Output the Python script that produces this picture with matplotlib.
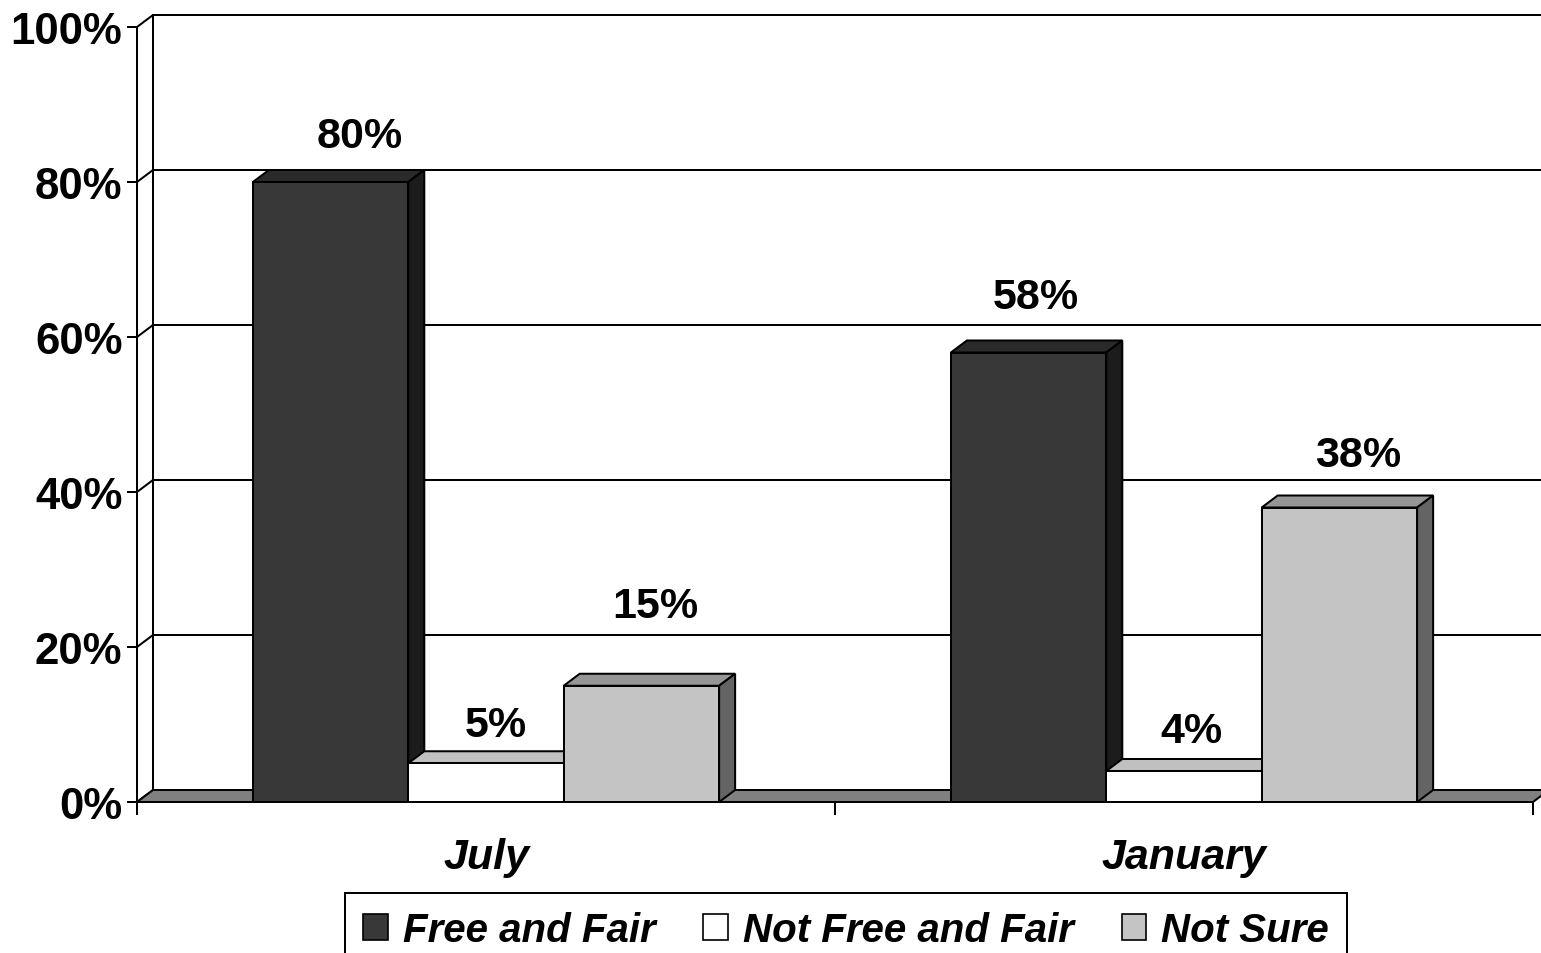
import matplotlib
matplotlib.use("Agg")
import matplotlib.pyplot as plt
from matplotlib.patches import Polygon, Patch

# ---- data ----
categories = ["July", "January"]
series = ["Free and Fair", "Not Free and Fair", "Not Sure"]
free_and_fair = [80, 58]
not_free_and_fair = [5, 4]
not_sure = [15, 38]
y_ticks = [0, 20, 40, 60, 80, 100]
y_tick_labels = ["0%", "20%", "40%", "60%", "80%", "100%"]

# ---- styles ----
front_colors = ["#383838", "#ffffff", "#c4c4c4"]
top_colors = ["#2a2a2a", "#c0c0c0", "#969696"]
side_colors = ["#1c1c1c", "#9a9a9a", "#646464"]
floor_color = "#808080"
LW = 1.44
DEPTH_X_PX, DEPTH_Y_PX = 16, 12
FONT = "Liberation Sans"

W, H = 1541, 954
fig = plt.figure(figsize=(W / 100, H / 100), dpi=100)
ax = fig.add_axes([137 / W, (H - 803) / H, 1396 / W, 775 / H])
ax.set_xlim(0, 2)
ax.set_ylim(0, 100)

# depth offset converted to data units
ax_w_px = 1396
ax_h_px = 775
dx = DEPTH_X_PX * 2 / ax_w_px
dy = DEPTH_Y_PX * 100 / ax_h_px

def poly(pts, fc, z):
    p = Polygon(pts, closed=True, facecolor=fc, edgecolor="black",
                linewidth=LW, joinstyle="miter", clip_on=False, zorder=z)
    ax.add_patch(p)

# back wall gridlines (incl. side-wall diagonals)
for t in y_ticks:
    ax.plot([0, dx, 2 + dx], [t, t + dy, t + dy], color="black", lw=LW,
            clip_on=False, zorder=0.5, solid_joinstyle="miter")
ax.plot([dx, dx], [dy, 100 + dy], color="black", lw=LW, clip_on=False, zorder=0.5)

# floor
poly([(0, 0), (2, 0), (2 + dx, dy), (dx, dy)], floor_color, 1)

# bars
values = [free_and_fair, not_free_and_fair, not_sure]
n = len(series)
bw = 0.668 / n
z = 2
label_offsets_px = [(29, 46), (10, 38), (14, 80), (7, 55), (7, 40), (19, 52)]
k = 0
for i, cat in enumerate(categories):
    for j in range(n):
        v = values[j][i]
        x0 = i + 0.5 - bw * n / 2 + j * bw
        x1 = x0 + bw
        poly([(x0, v), (x1, v), (x1 + dx, v + dy), (x0 + dx, v + dy)], top_colors[j], z)
        poly([(x1, 0), (x1, v), (x1 + dx, v + dy), (x1 + dx, dy)], side_colors[j], z)
        poly([(x0, 0), (x1, 0), (x1, v), (x0, v)], front_colors[j], z)
        z += 0.1
        ax.annotate(f"{v}%", xy=((x0 + x1) / 2, v), xytext=label_offsets_px[k],
                    textcoords="offset pixels", ha="center", va="center",
                    fontsize=31, fontweight="bold", family=FONT, zorder=10,
                    annotation_clip=False)
        k += 1

# axes styling
for s in ["top", "right"]:
    ax.spines[s].set_visible(False)
ax.spines["left"].set_linewidth(LW)
ax.spines["bottom"].set_linewidth(LW)
ax.spines["left"].set_zorder(5)
ax.spines["bottom"].set_zorder(5)
ax.set_yticks(y_ticks)
ax.set_yticklabels(y_tick_labels, fontsize=31.5, fontweight="bold", family=FONT)
ax.tick_params(axis="y", direction="out", length=7.5, width=LW, pad=3)
ax.set_xticks([0, 1, 2])
ax.set_xticklabels([])
ax.tick_params(axis="x", direction="out", length=9.5, width=LW)
for i, cat in enumerate(categories):
    ax.annotate(cat, xy=(i + 0.5, 0), xytext=(0, -55), textcoords="offset pixels",
                ha="center", va="center", fontsize=31, fontweight="bold",
                fontstyle="italic", family=FONT, annotation_clip=False)
ax.set_facecolor("none")

# legend
handles = [Patch(facecolor=front_colors[j], edgecolor="black", linewidth=1.2)
           for j in range(n)]
leg = fig.legend(handles, series, loc="upper center",
                 bbox_to_anchor=(846 / W, 1 - 894 / H), ncol=3,
                 frameon=True, fancybox=False, edgecolor="black",
                 prop={"family": FONT, "weight": "bold", "style": "italic", "size": 29},
                 handlelength=0.6, handleheight=0.6, handletextpad=0.37,
                 columnspacing=1.2, borderpad=0.45, borderaxespad=0)
leg.get_frame().set_linewidth(LW)
leg.get_frame().set_alpha(1)

fig.savefig("out.png", dpi=100)
